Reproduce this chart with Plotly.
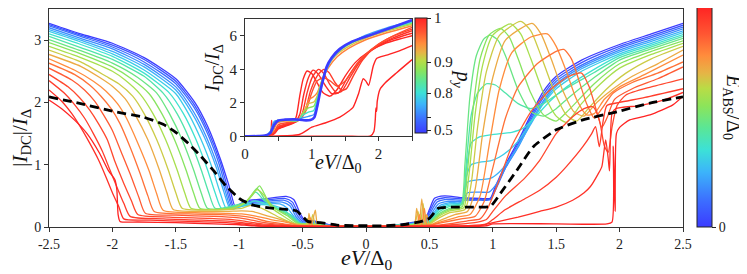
import plotly.graph_objects as go
from plotly.colors import sample_colorscale

FONT = "Liberation Serif"

RAINBOW = [
    [0.00, "rgb(59,59,255)"], [0.12, "rgb(60,110,255)"], [0.25, "rgb(60,180,250)"],
    [0.35, "rgb(60,225,215)"], [0.45, "rgb(90,230,150)"], [0.55, "rgb(140,228,90)"],
    [0.63, "rgb(185,220,70)"], [0.70, "rgb(230,180,70)"], [0.78, "rgb(255,140,60)"],
    [0.88, "rgb(255,85,50)"], [1.00, "rgb(255,35,35)"],
]

# ---------------- main panel: |I_DC|/I_Delta vs eV/Delta0, colour = E_ABS/Delta0
MAIN_E = [0.00, 0.06, 0.12, 0.18, 0.24, 0.30, 0.36, 0.42, 0.48, 0.54,
          0.60, 0.66, 0.72, 0.78, 0.83, 0.87, 0.91, 0.94, 0.97, 1.00]

MAIN_POINTS = [
    [(-2.5,3.27),(-2.25,3.1),(-2.0,2.95),(-1.75,2.72),(-1.5,2.38),(-1.35,2.0),(-1.25,1.62),(-1.15,1.1),(-1.08,0.66),(-1.03,0.32),(-1.0,0.36),(-0.95,0.42),(-0.8,0.45),(-0.63,0.49),(-0.57,0.44),(-0.52,0.22),(-0.48,0.1),(-0.42,0.1),(-0.36,0.07),(-0.28,0.03),(-0.2,0.01),(0.0,0.01),(0.2,0.02),(0.3,0.05),(0.38,0.08),(0.46,0.1),(0.5,0.28),(0.54,0.46),(0.62,0.5),(0.75,0.47),(0.9,0.46),(0.98,0.46),(1.02,0.65),(1.1,1.0),(1.2,1.38),(1.3,1.8),(1.4,2.18),(1.5,2.42),(1.7,2.68),(2.0,2.93),(2.25,3.1),(2.5,3.27)],
    [(-2.5,3.25),(-2.25,3.08),(-2.0,2.92),(-1.75,2.69),(-1.5,2.34),(-1.35,1.95),(-1.25,1.56),(-1.15,1.04),(-1.09,0.62),(-1.04,0.3),(-1.0,0.35),(-0.95,0.4),(-0.8,0.43),(-0.64,0.46),(-0.58,0.4),(-0.53,0.2),(-0.48,0.09),(-0.42,0.09),(-0.36,0.06),(-0.28,0.03),(-0.2,0.01),(0.0,0.01),(0.2,0.02),(0.3,0.05),(0.38,0.07),(0.46,0.09),(0.5,0.24),(0.55,0.43),(0.62,0.47),(0.75,0.45),(0.9,0.44),(0.98,0.45),(1.03,0.66),(1.1,0.97),(1.2,1.34),(1.3,1.76),(1.4,2.13),(1.5,2.38),(1.7,2.64),(2.0,2.9),(2.25,3.07),(2.5,3.24)],
    [(-2.5,3.23),(-2.25,3.06),(-2.0,2.89),(-1.75,2.65),(-1.5,2.3),(-1.35,1.9),(-1.25,1.5),(-1.16,1.02),(-1.1,0.6),(-1.05,0.3),(-1.0,0.34),(-0.95,0.38),(-0.8,0.41),(-0.65,0.43),(-0.59,0.37),(-0.54,0.18),(-0.49,0.08),(-0.42,0.08),(-0.36,0.05),(-0.28,0.02),(-0.2,0.01),(0.0,0.01),(0.2,0.02),(0.3,0.04),(0.38,0.06),(0.46,0.08),(0.5,0.2),(0.56,0.4),(0.62,0.44),(0.75,0.43),(0.9,0.43),(0.98,0.44),(1.04,0.68),(1.1,0.95),(1.2,1.3),(1.3,1.72),(1.4,2.08),(1.5,2.34),(1.7,2.6),(2.0,2.87),(2.25,3.04),(2.5,3.21)],
    [(-2.5,3.2),(-2.25,3.03),(-2.0,2.86),(-1.75,2.61),(-1.5,2.25),(-1.36,1.85),(-1.26,1.45),(-1.17,0.98),(-1.11,0.58),(-1.06,0.29),(-1.0,0.33),(-0.95,0.37),(-0.8,0.39),(-0.66,0.4),(-0.6,0.34),(-0.55,0.16),(-0.5,0.07),(-0.42,0.07),(-0.36,0.04),(-0.28,0.02),(-0.2,0.01),(0.0,0.01),(0.2,0.02),(0.3,0.04),(0.38,0.06),(0.46,0.07),(0.5,0.16),(0.57,0.37),(0.65,0.41),(0.76,0.42),(0.8,0.55),(0.9,0.56),(0.97,0.56),(1.04,0.72),(1.1,0.95),(1.2,1.28),(1.3,1.68),(1.4,2.03),(1.5,2.3),(1.7,2.57),(2.0,2.84),(2.25,3.01),(2.5,3.18)],
    [(-2.5,3.17),(-2.25,3.0),(-2.0,2.82),(-1.75,2.57),(-1.5,2.2),(-1.37,1.82),(-1.27,1.42),(-1.18,0.95),(-1.12,0.56),(-1.07,0.29),(-1.0,0.32),(-0.95,0.35),(-0.8,0.37),(-0.68,0.37),(-0.62,0.3),(-0.56,0.15),(-0.5,0.06),(-0.42,0.06),(-0.36,0.04),(-0.28,0.02),(-0.2,0.01),(0.0,0.01),(0.2,0.02),(0.3,0.04),(0.38,0.05),(0.46,0.07),(0.5,0.13),(0.58,0.34),(0.66,0.39),(0.76,0.4),(0.8,0.72),(0.9,0.76),(0.98,0.78),(1.05,0.88),(1.12,1.05),(1.2,1.3),(1.3,1.65),(1.4,2.0),(1.5,2.26),(1.7,2.54),(2.0,2.81),(2.25,2.98),(2.5,3.15)],
    [(-2.5,3.14),(-2.25,2.97),(-2.0,2.78),(-1.75,2.52),(-1.5,2.14),(-1.4,1.82),(-1.3,1.4),(-1.21,0.93),(-1.15,0.55),(-1.1,0.29),(-1.02,0.32),(-0.95,0.34),(-0.85,0.36),(-0.72,0.34),(-0.64,0.27),(-0.57,0.13),(-0.5,0.05),(-0.42,0.05),(-0.36,0.03),(-0.28,0.02),(-0.2,0.01),(0.0,0.01),(0.2,0.02),(0.3,0.03),(0.38,0.05),(0.46,0.06),(0.5,0.11),(0.58,0.31),(0.66,0.37),(0.76,0.39),(0.79,0.8),(0.83,1.0),(0.9,1.04),(0.98,1.06),(1.05,1.12),(1.12,1.22),(1.2,1.38),(1.3,1.68),(1.4,1.98),(1.5,2.22),(1.7,2.5),(2.0,2.78),(2.25,2.95),(2.5,3.12)],
    [(-2.5,3.1),(-2.25,2.93),(-2.0,2.74),(-1.75,2.47),(-1.55,2.15),(-1.44,1.82),(-1.34,1.4),(-1.25,0.92),(-1.19,0.55),(-1.14,0.3),(-1.05,0.33),(-0.95,0.36),(-0.88,0.42),(-0.8,0.38),(-0.7,0.3),(-0.6,0.2),(-0.52,0.06),(-0.44,0.05),(-0.36,0.03),(-0.28,0.02),(-0.2,0.01),(0.0,0.01),(0.2,0.02),(0.3,0.03),(0.38,0.05),(0.46,0.06),(0.5,0.09),(0.58,0.28),(0.66,0.35),(0.76,0.38),(0.79,0.9),(0.83,1.35),(0.9,1.45),(0.98,1.48),(1.06,1.5),(1.15,1.52),(1.25,1.6),(1.35,1.8),(1.45,2.02),(1.55,2.2),(1.75,2.47),(2.0,2.75),(2.25,2.92),(2.5,3.09)],
    [(-2.5,3.06),(-2.25,2.88),(-2.0,2.69),(-1.75,2.42),(-1.6,2.15),(-1.49,1.82),(-1.39,1.4),(-1.3,0.92),(-1.24,0.55),(-1.19,0.3),(-1.05,0.34),(-0.95,0.4),(-0.87,0.56),(-0.8,0.42),(-0.7,0.3),(-0.6,0.2),(-0.52,0.06),(-0.44,0.05),(-0.36,0.03),(-0.28,0.02),(-0.2,0.01),(0.0,0.01),(0.2,0.02),(0.3,0.03),(0.38,0.04),(0.46,0.05),(0.5,0.08),(0.58,0.25),(0.66,0.33),(0.76,0.37),(0.79,1.0),(0.83,1.8),(0.88,2.15),(0.95,2.3),(1.02,2.28),(1.1,2.15),(1.2,1.98),(1.3,1.9),(1.4,1.98),(1.5,2.12),(1.6,2.25),(1.8,2.48),(2.0,2.72),(2.25,2.89),(2.5,3.06)],
    [(-2.5,3.01),(-2.25,2.83),(-2.0,2.63),(-1.8,2.4),(-1.65,2.15),(-1.55,1.82),(-1.45,1.4),(-1.36,0.92),(-1.3,0.55),(-1.25,0.3),(-1.1,0.3),(-0.95,0.38),(-0.86,0.62),(-0.8,0.45),(-0.72,0.3),(-0.62,0.2),(-0.53,0.06),(-0.45,0.05),(-0.36,0.03),(-0.28,0.02),(-0.2,0.01),(0.0,0.01),(0.2,0.02),(0.3,0.03),(0.38,0.04),(0.46,0.05),(0.5,0.07),(0.58,0.22),(0.66,0.3),(0.75,0.35),(0.78,1.0),(0.82,2.1),(0.87,2.75),(0.93,3.02),(0.98,3.08),(1.04,3.0),(1.1,2.75),(1.2,2.2),(1.3,1.85),(1.4,1.78),(1.5,1.9),(1.6,2.08),(1.8,2.4),(2.0,2.68),(2.25,2.86),(2.5,3.03)],
    [(-2.5,2.96),(-2.25,2.78),(-2.0,2.57),(-1.85,2.38),(-1.71,2.14),(-1.61,1.82),(-1.51,1.4),(-1.42,0.92),(-1.36,0.55),(-1.31,0.3),(-1.15,0.29),(-1.0,0.33),(-0.9,0.5),(-0.84,0.66),(-0.78,0.45),(-0.72,0.3),(-0.62,0.18),(-0.54,0.06),(-0.45,0.05),(-0.36,0.03),(-0.28,0.02),(-0.2,0.01),(0.0,0.01),(0.2,0.02),(0.3,0.03),(0.38,0.04),(0.46,0.05),(0.5,0.06),(0.58,0.2),(0.66,0.28),(0.76,0.33),(0.8,0.9),(0.85,2.0),(0.9,2.7),(0.97,3.08),(1.06,3.19),(1.13,3.05),(1.2,2.7),(1.3,2.15),(1.4,1.8),(1.5,1.7),(1.6,1.88),(1.8,2.3),(2.0,2.62),(2.25,2.82),(2.5,2.99)],
    [(-2.5,2.9),(-2.25,2.72),(-2.0,2.5),(-1.9,2.36),(-1.78,2.13),(-1.68,1.82),(-1.58,1.4),(-1.49,0.92),(-1.43,0.55),(-1.38,0.3),(-1.2,0.28),(-1.05,0.3),(-0.95,0.4),(-0.86,0.6),(-0.8,0.5),(-0.74,0.3),(-0.64,0.16),(-0.55,0.05),(-0.45,0.04),(-0.36,0.03),(-0.28,0.02),(-0.2,0.01),(0.0,0.01),(0.2,0.02),(0.3,0.02),(0.38,0.03),(0.46,0.04),(0.5,0.05),(0.58,0.18),(0.66,0.26),(0.77,0.31),(0.81,0.8),(0.86,1.8),(0.92,2.6),(1.0,3.08),(1.14,3.26),(1.22,3.1),(1.3,2.7),(1.4,2.15),(1.5,1.78),(1.58,1.68),(1.7,1.98),(1.85,2.3),(2.0,2.55),(2.25,2.77),(2.5,2.95)],
    [(-2.5,2.84),(-2.25,2.65),(-2.05,2.42),(-1.95,2.3),(-1.84,2.1),(-1.75,1.82),(-1.65,1.4),(-1.56,0.92),(-1.5,0.55),(-1.45,0.3),(-1.25,0.27),(-1.1,0.28),(-0.98,0.3),(-0.9,0.35),(-0.8,0.28),(-0.68,0.15),(-0.56,0.05),(-0.47,0.04),(-0.46,0.14),(-0.44,0.03),(-0.42,0.2),(-0.4,0.04),(-0.36,0.02),(-0.2,0.01),(0.0,0.01),(0.2,0.02),(0.3,0.02),(0.38,0.03),(0.41,0.25),(0.43,0.04),(0.45,0.38),(0.47,0.06),(0.5,0.05),(0.58,0.15),(0.66,0.23),(0.78,0.28),(0.83,0.7),(0.88,1.6),(0.95,2.5),(1.05,3.07),(1.22,3.3),(1.3,3.15),(1.38,2.75),(1.48,2.2),(1.58,1.8),(1.66,1.7),(1.76,1.92),(1.9,2.22),(2.05,2.47),(2.25,2.7),(2.5,2.9)],
    [(-2.5,2.77),(-2.25,2.58),(-2.1,2.4),(-2.0,2.26),(-1.9,2.06),(-1.82,1.8),(-1.72,1.4),(-1.63,0.92),(-1.57,0.55),(-1.52,0.28),(-1.3,0.25),(-1.1,0.25),(-0.98,0.26),(-0.9,0.25),(-0.78,0.18),(-0.64,0.1),(-0.55,0.04),(-0.46,0.03),(-0.45,0.22),(-0.43,0.03),(-0.4,0.27),(-0.38,0.03),(-0.3,0.02),(-0.2,0.01),(0.0,0.01),(0.2,0.02),(0.3,0.02),(0.38,0.03),(0.4,0.3),(0.42,0.04),(0.44,0.45),(0.46,0.05),(0.48,0.2),(0.5,0.04),(0.6,0.12),(0.7,0.2),(0.8,0.25),(0.86,0.6),(0.92,1.5),(1.0,2.4),(1.1,3.0),(1.31,3.27),(1.38,3.1),(1.46,2.7),(1.55,2.2),(1.64,1.85),(1.72,1.78),(1.82,2.0),(1.95,2.22),(2.1,2.42),(2.3,2.62),(2.5,2.84)],
    [(-2.5,2.7),(-2.3,2.52),(-2.15,2.34),(-2.05,2.18),(-1.96,1.98),(-1.89,1.75),(-1.8,1.35),(-1.71,0.9),(-1.65,0.53),(-1.6,0.27),(-1.35,0.23),(-1.1,0.22),(-0.98,0.21),(-0.88,0.18),(-0.75,0.12),(-0.62,0.07),(-0.54,0.03),(-0.45,0.02),(-0.44,0.15),(-0.42,0.02),(-0.3,0.01),(-0.2,0.01),(0.0,0.01),(0.2,0.01),(0.3,0.02),(0.4,0.02),(0.42,0.2),(0.44,0.03),(0.46,0.3),(0.48,0.04),(0.5,0.03),(0.6,0.09),(0.72,0.16),(0.82,0.2),(0.9,0.5),(0.97,1.3),(1.05,2.2),(1.15,2.8),(1.3,3.05),(1.43,3.1),(1.5,2.9),(1.58,2.5),(1.66,2.05),(1.74,1.8),(1.8,1.82),(1.88,2.05),(2.0,2.25),(2.2,2.45),(2.5,2.76)],
    [(-2.5,2.63),(-2.3,2.45),(-2.18,2.28),(-2.09,2.1),(-2.01,1.9),(-1.94,1.66),(-1.86,1.28),(-1.78,0.85),(-1.72,0.5),(-1.67,0.25),(-1.4,0.21),(-1.15,0.2),(-1.0,0.18),(-0.9,0.15),(-0.78,0.09),(-0.65,0.05),(-0.55,0.02),(-0.4,0.01),(-0.2,0.01),(0.0,0.01),(0.2,0.01),(0.3,0.01),(0.4,0.02),(0.45,0.03),(0.5,0.03),(0.6,0.07),(0.75,0.13),(0.86,0.17),(0.93,0.4),(1.0,0.95),(1.1,1.75),(1.2,2.25),(1.35,2.62),(1.5,2.82),(1.56,2.85),(1.62,2.7),(1.68,2.35),(1.74,1.98),(1.8,1.75),(1.86,1.9),(1.95,2.15),(2.1,2.32),(2.3,2.47),(2.5,2.65)],
    [(-2.5,2.55),(-2.32,2.36),(-2.22,2.2),(-2.14,2.02),(-2.07,1.8),(-2.0,1.55),(-1.93,1.2),(-1.85,0.8),(-1.79,0.47),(-1.74,0.22),(-1.5,0.19),(-1.2,0.17),(-1.02,0.15),(-0.92,0.12),(-0.8,0.07),(-0.66,0.04),(-0.55,0.02),(-0.4,0.01),(-0.2,0.01),(0.0,0.01),(0.3,0.01),(0.45,0.02),(0.5,0.02),(0.65,0.05),(0.8,0.1),(0.9,0.13),(0.96,0.3),(1.05,0.75),(1.15,1.3),(1.3,1.85),(1.45,2.2),(1.6,2.42),(1.7,2.47),(1.76,2.25),(1.82,1.85),(1.86,1.6),(1.9,1.75),(1.96,2.05),(2.1,2.22),(2.3,2.38),(2.5,2.57)],
    [(-2.5,2.45),(-2.35,2.25),(-2.26,2.08),(-2.18,1.88),(-2.11,1.66),(-2.04,1.4),(-1.98,1.05),(-1.91,0.7),(-1.85,0.42),(-1.8,0.2),(-1.55,0.16),(-1.25,0.14),(-1.05,0.12),(-0.95,0.09),(-0.82,0.05),(-0.68,0.03),(-0.55,0.01),(-0.2,0.01),(0.0,0.01),(0.45,0.01),(0.5,0.01),(0.7,0.04),(0.88,0.08),(0.95,0.12),(1.0,0.25),(1.1,0.5),(1.25,0.78),(1.37,1.07),(1.5,1.5),(1.63,1.77),(1.72,1.9),(1.79,1.93),(1.84,1.72),(1.88,1.3),(1.91,1.2),(1.94,1.6),(1.98,1.95),(2.05,2.12),(2.25,2.25),(2.5,2.38)],
    [(-2.5,2.35),(-2.38,2.15),(-2.3,1.97),(-2.22,1.75),(-2.15,1.5),(-2.08,1.22),(-2.02,0.92),(-1.96,0.62),(-1.91,0.38),(-1.86,0.17),(-1.6,0.13),(-1.3,0.11),(-1.05,0.09),(-0.95,0.06),(-0.8,0.03),(-0.6,0.01),(-0.2,0.01),(0.0,0.01),(0.45,0.01),(0.8,0.02),(0.95,0.05),(1.0,0.12),(1.1,0.28),(1.25,0.45),(1.37,0.59),(1.5,0.8),(1.58,0.97),(1.71,1.29),(1.78,1.5),(1.81,1.61),(1.84,1.29),(1.87,1.7),(1.9,1.95),(2.0,2.0),(2.2,2.08),(2.5,2.22)],
    [(-2.5,2.2),(-2.4,2.02),(-2.32,1.82),(-2.25,1.6),(-2.18,1.35),(-2.11,1.08),(-2.05,0.8),(-2.0,0.55),(-1.95,0.33),(-1.91,0.13),(-1.7,0.11),(-1.4,0.09),(-1.1,0.07),(-0.98,0.05),(-0.85,0.02),(-0.65,0.01),(-0.2,0.01),(0.0,0.01),(0.45,0.01),(0.9,0.02),(0.98,0.06),(1.05,0.09),(1.2,0.16),(1.37,0.25),(1.5,0.32),(1.63,0.43),(1.72,0.55),(1.77,0.65),(1.83,0.85),(1.86,0.97),(1.89,1.4),(1.91,1.1),(1.92,0.9),(1.94,1.82),(1.97,1.9),(2.16,1.95),(2.35,2.04),(2.5,2.16)],
    [(-2.5,2.04),(-2.4,1.9),(-2.3,1.72),(-2.2,1.5),(-2.1,1.18),(-2.03,0.9),(-1.98,0.76),(-1.965,0.6),(-1.955,0.2),(-1.94,0.09),(-1.8,0.08),(-1.5,0.07),(-1.2,0.05),(-1.02,0.04),(-0.9,0.02),(-0.7,0.01),(-0.2,0.01),(0.0,0.01),(0.45,0.01),(0.95,0.02),(1.0,0.05),(1.5,0.05),(1.9,0.05),(1.94,0.08),(1.95,1.3),(1.96,0.6),(1.965,0.25),(1.975,1.5),(2.0,1.6),(2.08,1.72),(2.24,1.8),(2.42,1.96),(2.5,2.1)],
]

DASH_V = [-2.5,-2.25,-2.0,-1.75,-1.6,-1.5,-1.4,-1.3,-1.2,-1.1,-1.0,-0.95,-0.89,-0.78,-0.68,-0.55,-0.5,-0.46,-0.36,-0.23,-0.1,0.0,0.15,0.3,0.43,0.5,0.57,0.7,0.85,0.98,1.06,1.19,1.32,1.5,1.71,1.98,2.24,2.5]
DASH_I = [2.09,1.98,1.86,1.76,1.65,1.52,1.34,1.13,0.9,0.65,0.46,0.4,0.35,0.31,0.29,0.26,0.17,0.09,0.07,0.03,0.02,0.02,0.02,0.04,0.085,0.14,0.3,0.32,0.32,0.33,0.54,0.91,1.29,1.56,1.72,1.85,1.99,2.09]

# ---------------- inset: I_DC/I_Delta vs eV/Delta0, colour = p_y (colour-bar position)
INSET_C = [1.0, 1.0, 0.99, 0.98, 0.96, 0.94, 0.9, 0.8, 0.68, 0.55, 0.38, 0.2, 0.0]
INSET_POINTS = [
    [(0,0),(0.5,0.01),(1.0,0.01),(1.5,0.02),(1.88,0.03),(1.93,0.3),(1.95,1.0),(1.96,1.7),(1.97,1.5),(1.98,2.1),(2.02,2.8),(2.1,3.2),(2.27,3.8),(2.5,4.58)],
    [(0,0),(0.5,0.02),(0.8,0.1),(0.9,0.3),(1.0,0.55),(1.2,0.8),(1.42,1.15),(1.55,1.5),(1.62,1.75),(1.7,2.55),(1.77,3.44),(1.81,3.3),(1.85,3.04),(1.92,4.2),(1.97,4.65),(2.12,4.85),(2.32,5.12),(2.5,5.42)],
    [(0,0),(0.3,0.02),(0.38,0.08),(0.4,0.95),(0.41,0.1),(0.45,0.2),(0.5,0.45),(0.6,0.6),(0.72,0.78),(0.77,1.2),(0.82,2.4),(0.87,3.4),(0.93,3.9),(1.0,3.75),(1.08,3.2),(1.17,2.6),(1.27,2.4),(1.38,2.8),(1.5,3.6),(1.65,4.4),(1.85,5.05),(2.1,5.55),(2.5,6.0)],
    [(0,0),(0.3,0.02),(0.43,0.15),(0.5,0.5),(0.62,0.68),(0.75,0.85),(0.82,1.3),(0.88,2.5),(0.95,3.5),(1.02,3.95),(1.1,3.7),(1.2,3.05),(1.3,2.55),(1.4,2.6),(1.52,3.4),(1.68,4.35),(1.88,5.1),(2.15,5.7),(2.5,6.15)],
    [(0,0),(0.3,0.02),(0.44,0.2),(0.5,0.55),(0.64,0.75),(0.78,0.9),(0.86,1.4),(0.93,2.6),(1.01,3.55),(1.1,4.0),(1.18,3.75),(1.27,3.1),(1.37,2.6),(1.45,2.7),(1.57,3.5),(1.72,4.45),(1.92,5.25),(2.2,5.85),(2.5,6.3)],
    [(0,0),(0.3,0.02),(0.44,0.25),(0.5,0.6),(0.66,0.8),(0.8,0.95),(0.9,1.5),(0.98,2.7),(1.08,3.6),(1.18,4.0),(1.26,3.8),(1.35,3.2),(1.45,2.75),(1.52,2.85),(1.62,3.6),(1.76,4.55),(1.95,5.35),(2.2,5.95),(2.5,6.4)],
    [(0,0),(0.3,0.03),(0.44,0.3),(0.5,0.7),(0.68,0.85),(0.82,1.0),(0.92,1.6),(1.0,2.6),(1.08,3.3),(1.18,3.5),(1.28,3.3),(1.38,3.0),(1.5,3.3),(1.62,4.0),(1.78,4.8),(2.0,5.5),(2.25,6.05),(2.5,6.5)],
    [(0,0),(0.3,0.03),(0.42,0.3),(0.48,0.8),(0.6,0.92),(0.8,0.95),(0.9,1.6),(0.96,2.2),(1.02,2.35),(1.08,2.6),(1.15,3.3),(1.25,4.1),(1.38,4.75),(1.55,5.25),(1.8,5.75),(2.1,6.15),(2.5,6.6)],
    [(0,0),(0.3,0.03),(0.41,0.3),(0.47,0.85),(0.6,0.95),(0.8,0.95),(0.88,1.5),(0.95,1.95),(1.03,2.05),(1.08,2.4),(1.14,3.2),(1.23,4.1),(1.35,4.8),(1.52,5.3),(1.8,5.85),(2.1,6.25),(2.5,6.68)],
    [(0,0),(0.3,0.03),(0.4,0.3),(0.46,0.88),(0.6,0.97),(0.8,0.95),(0.87,1.4),(0.95,1.7),(1.03,1.8),(1.08,2.3),(1.14,3.15),(1.22,4.05),(1.33,4.8),(1.5,5.35),(1.8,5.92),(2.1,6.32),(2.5,6.75)],
    [(0,0),(0.3,0.03),(0.39,0.3),(0.45,0.9),(0.6,0.98),(0.8,0.95),(0.86,1.25),(0.95,1.45),(1.03,1.55),(1.08,2.15),(1.14,3.05),(1.21,3.95),(1.32,4.75),(1.48,5.35),(1.8,5.98),(2.1,6.38),(2.5,6.82)],
    [(0,0),(0.3,0.03),(0.38,0.3),(0.44,0.9),(0.6,0.99),(0.8,0.96),(0.86,1.1),(0.95,1.2),(1.03,1.3),(1.08,1.95),(1.14,2.9),(1.21,3.85),(1.31,4.65),(1.47,5.3),(1.8,6.02),(2.1,6.44),(2.5,6.88)],
    [(0,0),(0.2,0.02),(0.3,0.05),(0.38,0.2),(0.44,0.7),(0.5,0.95),(0.6,1.0),(0.75,1.02),(0.88,0.96),(0.98,0.98),(1.04,1.15),(1.08,1.75),(1.12,2.54),(1.17,3.4),(1.22,4.13),(1.3,4.7),(1.42,5.22),(1.6,5.65),(1.92,6.1),(2.2,6.5),(2.5,6.94)],
]

MAIN_XTICKS = [-2.5, -2, -1.5, -1, -0.5, 0, 0.5, 1, 1.5, 2, 2.5]
MAIN_XTICK_TEXT = ["-2.5", "-2", "-1.5", "-1", "-0.5", "0", "0.5", "1", "1.5", "2", "2.5"]
MAIN_YTICKS = [0, 1, 2, 3]
INSET_XTICKS = [0, 0.5, 1, 1.5, 2, 2.5]
INSET_XTICK_TEXT = ["0", " ", "1", " ", "2", " "]
INSET_YTICKS = [0, 2, 4, 6]
CB2_TICKS = [1.0, 0.617, 0.348, 0.139, 0.026]
CB2_TICK_TEXT = ["1", "0.9", "0.8", " ", "0.5"]

fig = go.Figure()

for e, pts in zip(MAIN_E, MAIN_POINTS):
    col = sample_colorscale(RAINBOW, [e])[0]
    fig.add_trace(go.Scatter(
        x=[p[0] for p in pts], y=[p[1] for p in pts], mode="lines",
        line=dict(color=col, width=1.3, shape="spline", smoothing=0.6),
        hoverinfo="skip", showlegend=False, xaxis="x", yaxis="y"))

fig.add_trace(go.Scatter(
    x=DASH_V, y=DASH_I, mode="lines",
    line=dict(color="black", width=2.8, dash="9px,5px", shape="spline", smoothing=0.5),
    hoverinfo="skip", showlegend=False, xaxis="x", yaxis="y"))

for c, pts in zip(INSET_C, INSET_POINTS):
    col = sample_colorscale(RAINBOW, [c])[0]
    w = 2.6 if c == 0.0 else 1.4
    fig.add_trace(go.Scatter(
        x=[p[0] for p in pts], y=[p[1] for p in pts], mode="lines",
        line=dict(color=col, width=w, shape="spline", smoothing=0.6),
        hoverinfo="skip", showlegend=False, xaxis="x2", yaxis="y2"))

# colour bars
fig.add_trace(go.Scatter(
    x=[None], y=[None], mode="markers", showlegend=False, hoverinfo="skip",
    marker=dict(color=[0.5], colorscale=RAINBOW, cmin=0, cmax=1, showscale=True,
                colorbar=dict(x=1.022, xanchor="left", xpad=0, y=0, yanchor="bottom", ypad=0,
                              len=1.005, lenmode="fraction", thickness=15,
                              outlinewidth=1, outlinecolor="#222",
                              tickvals=[0, 1], ticktext=["0", "1"], ticks="outside",
                              ticklen=4, tickcolor="#222",
                              tickfont=dict(family=FONT, size=14, color="#222"))),
    xaxis="x", yaxis="y"))

fig.add_trace(go.Scatter(
    x=[None], y=[None], mode="markers", showlegend=False, hoverinfo="skip",
    marker=dict(color=[0.5], colorscale=RAINBOW, cmin=0, cmax=1, showscale=True,
                colorbar=dict(x=0.5773, xanchor="left", xpad=0, y=0.429, yanchor="bottom", ypad=0,
                              len=0.525, lenmode="fraction", thickness=12,
                              outlinewidth=1, outlinecolor="#222",
                              tickvals=CB2_TICKS, ticktext=CB2_TICK_TEXT, ticks="outside",
                              ticklen=4, tickcolor="#222",
                              tickfont=dict(family=FONT, size=15, color="#222"))),
    xaxis="x2", yaxis="y2"))

axis_common = dict(showgrid=False, zeroline=False, showline=True, linecolor="#333",
                   linewidth=1, mirror=True, ticks="outside", ticklen=4, tickcolor="#333")

# the page body has an 8 px margin, so the figure is sized/offset to compensate
fig.update_layout(
    width=739, height=266,
    margin=dict(l=41, r=64, t=0, b=47, pad=0),
    paper_bgcolor="white", plot_bgcolor="white",
    font=dict(family=FONT, color="#222"),
    xaxis=dict(domain=[0, 1], range=[-2.5, 2.5], tickvals=MAIN_XTICKS, ticktext=MAIN_XTICK_TEXT,
               tickfont=dict(family=FONT, size=14), anchor="y", **axis_common),
    yaxis=dict(domain=[0, 1], range=[0, 3.5], tickvals=MAIN_YTICKS,
               tickfont=dict(family=FONT, size=14), anchor="x", **axis_common),
    xaxis2=dict(domain=[0.309, 0.5726], range=[0, 2.5], tickvals=INSET_XTICKS, ticktext=INSET_XTICK_TEXT,
                tickfont=dict(family=FONT, size=15), anchor="y2", **axis_common),
    yaxis2=dict(domain=[0.4155, 0.954], range=[0, 7], tickvals=INSET_YTICKS,
                tickfont=dict(family=FONT, size=15), anchor="x2", **axis_common),
    annotations=[
        dict(text="|<i>I</i><sub>DC</sub>|/<i>I</i><sub>Δ</sub>", x=-0.0435, y=0.411,
             xref="paper", yref="paper", textangle=-90, showarrow=False,
             xanchor="center", yanchor="middle", font=dict(family=FONT, size=21, color="#111")),
        dict(text="<i>eV</i>/Δ<sub>0</sub>", x=0.5, y=-0.146, xref="paper", yref="paper",
             showarrow=False, xanchor="center", yanchor="middle",
             font=dict(family=FONT, size=22, color="#111")),
        dict(text="<i>I</i><sub>DC</sub>/<i>I</i><sub>Δ</sub>", x=0.260, y=0.726,
             xref="paper", yref="paper", textangle=-90, showarrow=False,
             xanchor="center", yanchor="middle", font=dict(family=FONT, size=20, color="#111")),
        dict(text="<i>eV</i>/Δ<sub>0</sub>", x=0.456, y=0.292, xref="paper", yref="paper",
             showarrow=False, xanchor="center", yanchor="middle",
             font=dict(family=FONT, size=20, color="#111")),
        dict(text="<i>p<sub>y</sub></i>", x=0.652, y=0.680, xref="paper", yref="paper",
             textangle=90, showarrow=False, xanchor="center", yanchor="middle",
             font=dict(family=FONT, size=20, color="#111")),
        dict(text="<i>E</i><sub>ABS</sub>/Δ<sub>0</sub>", x=1.078, y=0.548, xref="paper", yref="paper",
             textangle=90, showarrow=False, xanchor="center", yanchor="middle",
             font=dict(family=FONT, size=20, color="#111")),
    ],
)

fig.write_html("out.html")
